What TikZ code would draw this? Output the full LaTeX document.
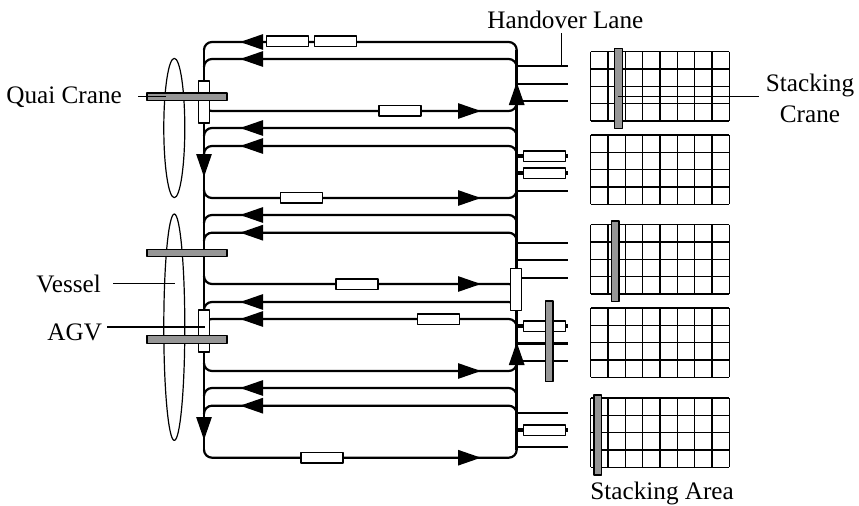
\documentclass[tikz,border=0pt]{standalone}
\usepackage{fontspec}
\setmainfont{Liberation Serif}
\usepackage{xcolor}
\usetikzlibrary{arrows.meta,positioning}
\definecolor{yardInk}{HTML}{000000}
\definecolor{yardCrane}{HTML}{969696}
\tikzset{
  yard diagram/.style={font=\fontsize{12.6}{15.5}\selectfont, text=yardInk,
    line join=round},
  yard lane/.style={draw=yardInk, line width=1.1pt, rounded corners=4pt},
  yard stub/.style={draw=yardInk, line width=1.1pt},
  yard rail/.style={draw=yardInk, line width=1.3pt},
  yard head/.style={-{Triangle[length=11.5pt,width=7.6pt]}, draw=yardInk, line width=1.1pt},
  yard agv/.style={draw=yardInk, fill=white, line width=0.7pt, rectangle,
    inner sep=0pt, minimum width=21pt, minimum height=5.2pt},
  yard agv up/.style={yard agv, minimum width=5.5pt, minimum height=21pt},
  yard crane/.style={draw=yardInk, fill=yardCrane, line width=0.6pt},
  yard grid/.style={draw=yardInk, line width=0.7pt},
  yard leader/.style={draw=yardInk, line width=0.6pt},
  yard label/.style={inner sep=0pt, anchor=base west}
}
\begin{document}
\begin{tikzpicture}[yard diagram,x=0.5pt,y=-0.5pt]
\useasboundingbox (0,0) rectangle (859,505);
\draw[yard leader] (174.3,128) ellipse (10.5 and 69.7);
\draw[yard leader] (174.3,327.2) ellipse (10.5 and 113.2);
\foreach \y/\l/\r in {42/1/1,59/1/1,111/-1/-1,128/1/1,146/1/1,198/-1/-1,215/1/1,232.7/1/1,284/-1/1,302/1/1,319/1/1,371/-1/-1,388/1/1,405.7/1/1,457.7/-1/-1}
  \draw[yard lane] (204,{\y+8*\l}) -- (204,\y) -- (516.7,\y) -- (516.7,{\y+8*\r});
\draw[yard rail] (204,50) -- (204,450);
\draw[yard rail] (516.7,50) -- (516.7,450);
\foreach \y in {66,83.7,100.7,190.7,242.7,260,277.7,343.5,360.7,413,447}
  \draw[yard stub] (516.7,\y) -- (568,\y);
\foreach \y in {42,59,128,146,215,232.7,302,319,388,405.7}
  \draw[yard head] (263,\y) -- (240,\y);
\foreach \y in {111,198,284,371,457.7}
  \draw[yard head] (458,\y) -- (481,\y);
\draw[yard head] (204,157) -- (204,177);
\draw[yard head] (204,417) -- (204,440);
\draw[yard head] (516.7,100.7) -- (516.7,82);
\draw[yard head] (516.7,360.7) -- (516.7,342);
\foreach \y in {156,173,326,430} {
  \draw[yard stub,line width=2pt] (516.7,\y) -- (524,\y);
  \draw[yard stub,line width=2pt] (564,\y) -- (568,\y);
  \node[yard agv] (lane agv \y) at (544.3,\y) {};
}
\node[yard agv] (agv a) at (287.5,41) {};
\node[yard agv] (agv b) at (335.5,41) {};
\node[yard agv] (agv c) at (400,110.7) {};
\node[yard agv] (agv d) at (301.3,197.7) {};
\node[yard agv] (agv e) at (357,284) {};
\node[yard agv] (agv f) at (438.3,319) {};
\node[yard agv] (agv g) at (322,457.7) {};
\node[yard agv up] (agv h) at (204.2,101.8) {};
\node[yard agv up] (agv i) at (204.2,330.8) {};
\node[yard agv up] (agv j) at (516.2,289.2) {};
\foreach \top in {51.7,135,224.7,308,398} {
  \foreach \i in {0,...,8}
    \draw[yard grid] ({590.7+17.33*\i},\top) -- ({590.7+17.33*\i},{\top+69.3});
  \foreach \j in {0,...,4}
    \draw[yard grid] (590.7,{\top+17.33*\j}) -- (729.3,{\top+17.33*\j});
}
\filldraw[yard crane] (147,93) rectangle (227,100.7);
\filldraw[yard crane] (147,249.3) rectangle (227,256.7);
\filldraw[yard crane] (147,335.7) rectangle (227,343.3);
\filldraw[yard crane] (614.7,48.3) rectangle (622.3,128.3);
\filldraw[yard crane] (611.3,221) rectangle (619,301.7);
\filldraw[yard crane] (545.3,301) rectangle (553,381.7);
\filldraw[yard crane] (594,395) rectangle (601.7,475);
\node[yard label] (quai) at (6,103) {Quai Crane};
\node[yard label] (vessel) at (36,292) {Vessel};
\node[yard label] (agv) at (47,340) {AGV};
\node[yard label] (handover) at (487,28.5) {Handover Lane};
\node[yard label] (area) at (590,499) {Stacking Area};
\node[inner sep=0pt,align=center] (stacking) at (810,98) {Stacking\\Crane};
\coordinate (quai tip) at (165.7,96.7);
\coordinate (vessel tip) at (175,283.3);
\coordinate (agv tip) at (204.7,327);
\coordinate (handover tip) at (561.7,66);
\coordinate (stacking tip) at (618.3,96.7);
\draw[yard leader,shorten <=8pt] (quai.east |- quai tip) -- (quai tip);
\draw[yard leader,shorten <=6pt] (vessel.east |- vessel tip) -- (vessel tip);
\draw[yard leader,shorten <=2.5pt] (agv.east |- agv tip) -- (agv tip);
\draw[yard leader,shorten <=2pt] (handover.south -| handover tip) -- (handover tip);
\draw[yard leader,shorten <=3.5pt] (stacking.west |- stacking tip) -- (stacking tip);
\end{tikzpicture}
\end{document}
